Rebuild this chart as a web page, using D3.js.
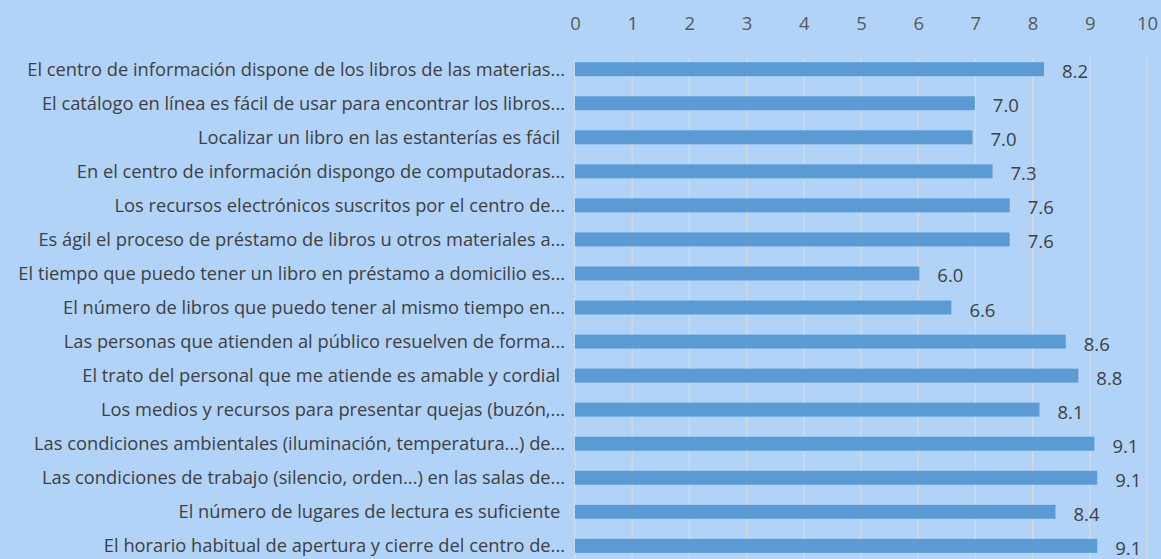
<!DOCTYPE html>
<html>
<head>
<meta charset="utf-8">
<script src="https://cdn.jsdelivr.net/npm/d3@7"></script>
<style>
  body { margin: 0; background: #b1d3f8; }
  svg { display: block; font-family: "Open Sans", sans-serif; }
  .cat { white-space: pre; }
</style>
</head>
<body>
<script>
var w = 1161;
var h = 559;

var categories = [
  "El centro de información dispone de los libros de las materias...",
  "El catálogo en línea es fácil de usar para encontrar los libros...",
  "Localizar un libro en las estanterías es fácil ",
  "En el centro de información dispongo de computadoras...",
  "Los recursos electrónicos suscritos por el centro de...",
  "Es ágil el proceso de préstamo de libros u otros materiales a...",
  "El tiempo que puedo tener un libro en préstamo a domicilio es...",
  "El número de libros que puedo tener al mismo tiempo en...",
  "Las personas que atienden al público resuelven de forma...",
  "El trato del personal que me atiende es amable y cordial ",
  "Los medios y recursos para presentar quejas (buzón,...",
  "Las condiciones ambientales (iluminación, temperatura...) de...",
  "Las condiciones de trabajo (silencio, orden...) en las salas de...",
  "El número de lugares de lectura es suficiente ",
  "El horario habitual de apertura y cierre del centro de..."
];
var values = [8.2, 6.99, 6.95, 7.3, 7.6, 7.6, 6.02, 6.58, 8.58, 8.8, 8.12, 9.08, 9.13, 8.4, 9.13];
var tickValues = [0, 1, 2, 3, 4, 5, 6, 7, 8, 9, 10];

var xScale = d3.scaleLinear()
  .domain([0, 10])
  .range([575, 1147]);

var yScale = d3.scaleBand()
  .domain(categories)
  .range([52, 52 + 34.07 * 15])
  .paddingInner(0.59)
  .paddingOuter(0.3);

var svg = d3.select("body")
  .append("svg")
  .attr("width", w)
  .attr("height", h);

svg.append("rect")
  .attr("width", w)
  .attr("height", h)
  .attr("fill", "#b1d3f8");

// gridlines
svg.selectAll("line.grid")
  .data(tickValues)
  .enter()
  .append("line")
  .attr("class", "grid")
  .attr("x1", function(d) { return xScale(d); })
  .attr("x2", function(d) { return xScale(d); })
  .attr("y1", 58)
  .attr("y2", h)
  .attr("stroke", "#d9d9d9")
  .attr("stroke-width", 1.3);

var xAxis = d3.axisTop()
  .scale(xScale)
  .tickValues(tickValues)
  .tickSize(0)
  .tickPadding(0);

var gx = svg.append("g")
  .attr("transform", "translate(0,30)")
  .call(xAxis);
gx.select(".domain").remove();
gx.selectAll("text")
  .attr("font-family", "'Open Sans', sans-serif")
  .attr("font-size", 18.5)
  .attr("fill", "#595959");

svg.selectAll("rect.bar")
  .data(values)
  .enter()
  .append("rect")
  .attr("class", "bar")
  .attr("x", xScale(0))
  .attr("y", function(d, i) { return yScale(categories[i]); })
  .attr("width", function(d) { return xScale(d) - xScale(0); })
  .attr("height", yScale.bandwidth())
  .attr("fill", "#5b9bd5");

svg.selectAll("text.val")
  .data(values)
  .enter()
  .append("text")
  .attr("class", "val")
  .text(function(d) { return d.toFixed(1); })
  .attr("x", function(d) { return xScale(d) + 18; })
  .attr("y", function(d, i) { return yScale(categories[i]) + yScale.bandwidth() / 2 + 9; })
  .attr("font-size", 18.5)
  .attr("fill", "#404040");

svg.selectAll("text.cat")
  .data(categories)
  .enter()
  .append("text")
  .attr("class", "cat")
  .text(function(d) { return d; })
  .attr("x", 565)
  .attr("y", function(d) { return yScale(d) + yScale.bandwidth() / 2; })
  .attr("dy", "0.35em")
  .attr("text-anchor", "end")
  .attr("font-size", 18.3)
  .attr("fill", "#404040");
</script>
</body>
</html>
